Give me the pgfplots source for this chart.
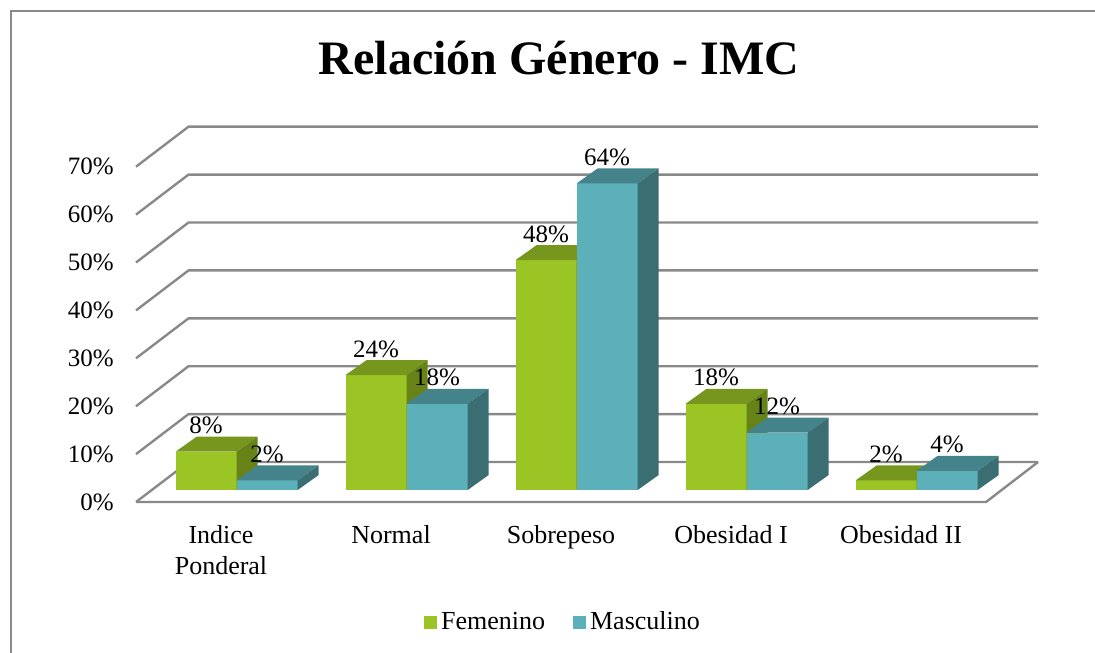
\documentclass[border=0pt]{standalone}
\usepackage{pgfplots}
\pgfplotsset{compat=1.18}
\usepackage{pgfplotstable}
\usepackage{fontspec}
\setmainfont{Liberation Serif}
\definecolor{femF}{RGB}{155,197,37}
\definecolor{femT}{RGB}{119,150,29}
\definecolor{femS}{RGB}{103,131,24}
\definecolor{mascF}{RGB}{91,176,185}
\definecolor{mascT}{RGB}{68,131,138}
\definecolor{mascS}{RGB}{59,110,115}
\definecolor{gridc}{RGB}{137,137,137}

\pgfplotstableread{
i fem masc
0 8 2
1 24 18
2 48 64
3 18 12
4 2 4
}\data

% one 3D bar: #1 left x of front face, #2 value, #3 colour prefix
\newcommand\drawbar[3]{%
  \pgfmathsetmacro\xa{#1}%
  \pgfmathsetmacro\xb{#1+0.359}%
  \pgfmathsetmacro\xc{#1+0.359+0.1235}%
  \pgfmathsetmacro\xd{#1+0.1235}%
  \pgfmathsetmacro\ya{2.505}%
  \pgfmathsetmacro\yb{2.505+#2}%
  \pgfmathsetmacro\yc{2.505+#2+3.13}%
  \pgfmathsetmacro\yd{2.505+3.13}%
  \edef\temp{%
    \noexpand\addplot[forget plot, draw=none, fill=#3F] coordinates {(\xa,\ya) (\xb,\ya) (\xb,\yb) (\xa,\yb)} -- cycle;
    \noexpand\addplot[forget plot, draw=none, fill=#3T] coordinates {(\xa,\yb) (\xb,\yb) (\xc,\yc) (\xd,\yc)} -- cycle;
    \noexpand\addplot[forget plot, draw=none, fill=#3S] coordinates {(\xb,\ya) (\xc,\yd) (\xc,\yc) (\xb,\yb)} -- cycle;
  }%
  \temp
}

\begin{document}
\begin{tikzpicture}
\begin{axis}[
  x=85pt, y=2.395pt,
  xmin=-0.5, xmax=4.5, ymin=0, ymax=70,
  clip=false,
  axis line style={draw=none},
  major tick length=0pt,
  tick style={draw=none},
  xtick={0,1,2,3,4},
  xticklabels={{Indice\\Ponderal},Normal,Sobrepeso,{Obesidad I},{Obesidad II}},
  xticklabel style={align=center, anchor=north, inner sep=0pt, yshift=-11.6pt, font=\fontsize{13}{15.5}\selectfont},
  ytick={0,10,20,30,40,50,60,70},
  yticklabels={0\%,10\%,20\%,30\%,40\%,50\%,60\%,70\%},
  yticklabel style={xshift=-7.6pt, font=\fontsize{12.5}{15}\selectfont},
  title={Relación Género - IMC},
  title style={at={(0.4976,1.238)}, anchor=base, yshift=0pt, font=\fontsize{24}{28}\selectfont\bfseries},
  legend columns=2,
  legend style={at={(0.5035,-0.358)}, anchor=center, draw=none, fill=none,
    font=\fontsize{13}{15}\selectfont,
    /tikz/every even column/.append style={column sep=12pt}},
  legend image code/.code={\fill[#1] (0pt,-3.25pt) rectangle (6.5pt,3.25pt);},
]
% frame and bounding box
\coordinate (bbA) at (axis cs:-1.3,104.8);
\coordinate (bbB) at (axis cs:5.141,-31.52);
\draw[gridc, line width=1pt] (axis cs:-1.2353,-31.52) -- (axis cs:-1.2353,102.51) -- (axis cs:5.141,102.51);

% walls and floor
\addplot[forget plot, gridc, line width=1.2pt] coordinates {(-0.5,0) (4.5,0) (4.806,8.351)};
\addplot[forget plot, gridc, line width=1.2pt] coordinates {(-0.5,0) (-0.191,8.351) (4.806,8.351)};
\addplot[forget plot, gridc, line width=1.2pt] coordinates {(-0.5,10) (-0.191,18.351) (4.806,18.351)};
\addplot[forget plot, gridc, line width=1.2pt] coordinates {(-0.5,20) (-0.191,28.351) (4.806,28.351)};
\addplot[forget plot, gridc, line width=1.2pt] coordinates {(-0.5,30) (-0.191,38.351) (4.806,38.351)};
\addplot[forget plot, gridc, line width=1.2pt] coordinates {(-0.5,40) (-0.191,48.351) (4.806,48.351)};
\addplot[forget plot, gridc, line width=1.2pt] coordinates {(-0.5,50) (-0.191,58.351) (4.806,58.351)};
\addplot[forget plot, gridc, line width=1.2pt] coordinates {(-0.5,60) (-0.191,68.351) (4.806,68.351)};
\addplot[forget plot, gridc, line width=1.2pt] coordinates {(-0.5,70) (-0.191,78.351) (4.806,78.351)};

% bars
\pgfplotsinvokeforeach{0,1,2,3,4}{
  \pgfplotstablegetelem{#1}{fem}\of\data \let\vf\pgfplotsretval
  \pgfplotstablegetelem{#1}{masc}\of\data \let\vm\pgfplotsretval
  \drawbar{#1-0.2672}{\vf}{fem}
  \drawbar{#1+0.0918}{\vm}{masc}
}

% value labels
\addplot[forget plot, draw=none, mark=none, point meta=explicit symbolic,
  nodes near coords={\pgfplotspointmeta\%},
  nodes near coords style={anchor=base, yshift=1.5pt, font=\fontsize{12.5}{14}\selectfont}]
  table[x expr=\thisrow{i}-0.0877, y expr=\thisrow{fem}+5.635, meta=fem]{\data};
\addplot[forget plot, draw=none, mark=none, point meta=explicit symbolic,
  nodes near coords={\pgfplotspointmeta\%},
  nodes near coords style={anchor=base, yshift=1.5pt, font=\fontsize{12.5}{14}\selectfont}]
  table[x expr=\thisrow{i}+0.2713, y expr=\thisrow{masc}+5.635, meta=masc]{\data};

\addlegendimage{fill=femF, draw=none}
\addlegendentry{Femenino}
\addlegendimage{fill=mascF, draw=none}
\addlegendentry{Masculino}
\end{axis}
\pgfresetboundingbox
\path (bbA) rectangle (bbB);
\end{tikzpicture}
\end{document}
